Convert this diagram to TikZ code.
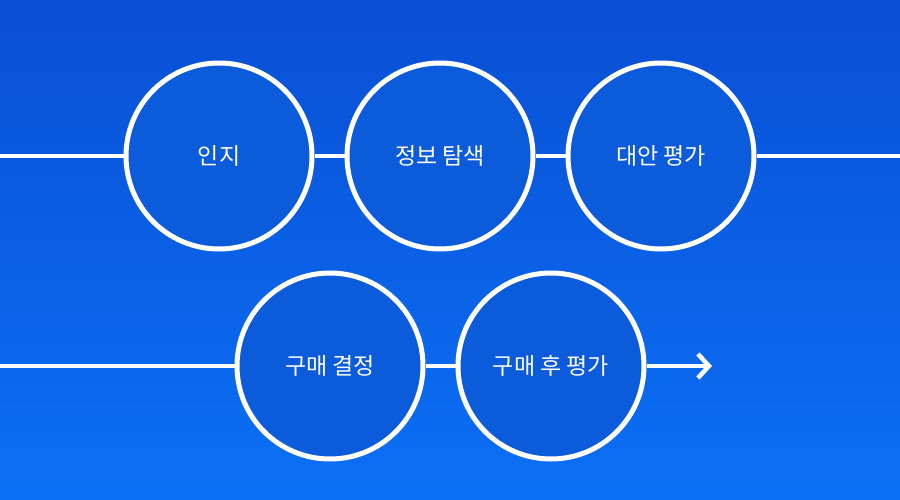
\documentclass[tikz,border=0pt]{standalone}
\usepackage{fontspec}
\newfontfamily\kr{Noto Sans CJK KR}
\usetikzlibrary{arrows.meta}
\definecolor{bgtop}{HTML}{0A4FD4}
\definecolor{bgbot}{HTML}{0B70F5}
\definecolor{cfill}{HTML}{0B5BDB}
\tikzset{
  stage/.style={circle, draw=white, line width=5pt, fill=cfill, minimum size=186pt, inner sep=0pt, text=white, font=\kr\fontsize{23pt}{27pt}\selectfont},
  link/.style={draw=white, line width=4.5pt}
}
\begin{document}
\begin{tikzpicture}[x=1pt,y=-1pt]
\useasboundingbox (0,0) rectangle (900,500);
\shade[top color=bgtop, bottom color=bgbot] (0,0) rectangle (900,500);
\coordinate (s1) at (0,156);
\coordinate (e1) at (900,156);
\coordinate (s2) at (0,366);
\coordinate (e2) at (712,366);
\node[stage] (c1) at (219,156) {인지};
\node[stage] (c2) at (440,156) {정보 탐색};
\node[stage] (c3) at (661,156) {대안 평가};
\node[stage] (c4) at (330,366) {구매 결정};
\node[stage] (c5) at (551,366) {구매 후 평가};
\draw[link] (s1) -- (c1);
\draw[link] (c1) -- (c2);
\draw[link] (c2) -- (c3);
\draw[link] (c3) -- (e1);
\draw[link] (s2) -- (c4);
\draw[link] (c4) -- (c5);
\draw[link, -{Straight Barb[length=11pt,width=24pt]}] (c5) -- (e2);
\end{tikzpicture}
\end{document}
